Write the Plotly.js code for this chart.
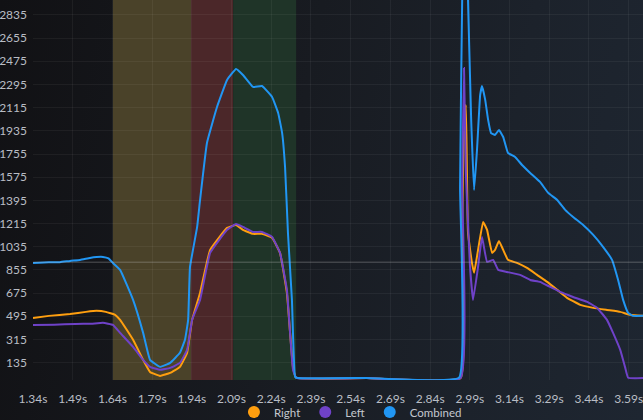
<!DOCTYPE html>
<html>
<head>
<meta charset="utf-8">
<script src="https://cdn.plot.ly/plotly-3.0.1.min.js"></script>
<style>
html,body{margin:0;padding:0;width:643px;height:420px;overflow:hidden;
background:linear-gradient(100deg,#111114 0%,#181b21 45%,#1c222b 75%,#1e2631 100%);}
#chart{width:643px;height:420px;}
</style>
</head>
<body>
<div id="chart"></div>
<script>
// Right foot
const timeR = [1.340,1.400,1.480,1.540,1.580,1.615,1.650,1.669,1.718,1.756,1.782,1.820,1.858,1.895,1.922,1.941,1.971,2.009,2.073,2.107,2.133,2.171,2.205,2.243,2.273,2.299,2.311,2.322,2.334,2.600,2.955,2.961,2.968,2.975,2.983,2.998,3.006,3.021,3.040,3.055,3.074,3.085,3.100,3.116,3.134,3.168,3.206,3.244,3.282,3.320,3.357,3.407,3.456,3.508,3.558,3.596,3.644];
const right = [482,498,513,529,537,529,506,467,312,156,63,32,55,102,211,467,676,1010,1181,1204,1166,1135,1135,1104,987,676,366,102,17,15,15,1200,2000,2136,1142,909,832,1010,1228,1166,987,1010,1080,1010,933,909,870,816,762,700,638,583,560,544,529,506,498];
// Left foot
const timeL = [1.340,1.420,1.500,1.560,1.604,1.642,1.669,1.718,1.756,1.782,1.820,1.858,1.895,1.922,1.941,1.971,2.009,2.073,2.107,2.133,2.171,2.205,2.243,2.273,2.299,2.311,2.322,2.334,2.600,2.955,2.961,2.968,2.975,2.990,3.002,3.021,3.036,3.055,3.078,3.097,3.131,3.180,3.218,3.255,3.293,3.331,3.380,3.433,3.471,3.508,3.531,3.558,3.576,3.588,3.644];
const left = [428,430,435,437,444,428,366,257,156,102,79,94,133,234,467,622,987,1166,1212,1189,1150,1150,1111,987,700,366,79,17,15,15,1500,2423,1600,900,622,878,1111,917,933,855,839,816,777,762,723,684,645,607,560,467,366,234,102,17,15];
// Combined
const timeC = [1.340,1.400,1.442,1.480,1.518,1.555,1.580,1.604,1.625,1.642,1.669,1.718,1.756,1.782,1.820,1.858,1.895,1.914,1.926,1.933,1.960,1.971,1.997,2.035,2.073,2.107,2.133,2.171,2.205,2.243,2.266,2.281,2.292,2.303,2.318,2.330,2.340,2.600,2.949,2.953,2.961,2.972,2.983,2.995,3.006,3.017,3.029,3.036,3.048,3.059,3.070,3.085,3.100,3.116,3.134,3.161,3.187,3.218,3.255,3.286,3.320,3.350,3.380,3.418,3.456,3.493,3.527,3.550,3.569,3.588,3.607,3.644];
const combined = [908,915,915,925,932,948,955,956,945,909,855,622,366,156,102,133,211,312,467,878,1189,1398,1841,2120,2330,2415,2369,2276,2283,2198,2074,1918,1655,1142,622,24,15,15,17,1500,2951,3600,2951,2020,1476,1787,2214,2283,2175,2020,1918,1903,1942,1887,1763,1732,1670,1608,1538,1453,1398,1321,1266,1204,1127,1034,933,777,622,521,498,498];

const seriesNames = ['Right','Left','Combined'];
const seriesColors = ['#ff9f0f','#6f42c8','#2196f3'];

// phase bands [start, end]
const phaseStart = [1.642, 1.937, 2.096];
const phaseEnd   = [1.937, 2.096, 2.334];
const phaseColors = ['#4a4229','#4b2729','#1f3428'];
const hoverValue = 915;

const xs = [timeR, timeL, timeC];
const ys = [right, left, combined];
const traces = [];
for (let i = 0; i < 3; i++) {
  traces.push({x: xs[i], y: ys[i], type: 'scatter', mode: 'lines', name: seriesNames[i],
    showlegend: false, line: {color: seriesColors[i], width: 2, shape: 'spline', smoothing: 0.3},
    hoverinfo: 'skip'});
}
for (let i = 0; i < 3; i++) {
  traces.push({x: [null], y: [null], type: 'scatter', mode: 'markers', name: seriesNames[i],
    marker: {color: seriesColors[i], size: 12, symbol: 'circle'}, showlegend: true});
}

const shapes = [];
for (let i = 0; i < phaseStart.length; i++) {
  shapes.push({type: 'rect', xref: 'x', yref: 'paper', x0: phaseStart[i], x1: phaseEnd[i], y0: 0, y1: 1,
    fillcolor: phaseColors[i], line: {width: 0}, layer: 'below'});
}
shapes.push({type: 'line', xref: 'paper', yref: 'y', x0: 0, x1: 1, y0: hoverValue, y1: hoverValue,
  line: {color: 'rgba(200,200,200,0.35)', width: 1}, layer: 'above'});

const layout = {
  width: 643, height: 420,
  margin: {l: 33, r: 0, t: 0, b: 40, pad: 0, autoexpand: false},
  paper_bgcolor: 'rgba(0,0,0,0)', plot_bgcolor: 'rgba(0,0,0,0)',
  font: {family: 'Lato, sans-serif', size: 12, color: '#b9bdc4'},
  showlegend: true,
  legend: {orientation: 'h', xref: 'container', x: 0.545, xanchor: 'center', yref: 'container', y: 0.019, yanchor: 'middle',
    font: {size: 11.5, color: '#c4c8cf'}, itemwidth: 30, bgcolor: 'rgba(0,0,0,0)', tracegroupgap: 0},
  xaxis: {range: [1.34, 3.644], tick0: 1.34, dtick: 0.15, tickformat: '.2f', ticksuffix: 's',
    showgrid: true, gridcolor: 'rgba(255,255,255,0.05)', zeroline: false, showline: false,
    ticks: '', ticklabelstandoff: 10, ticklabeloverflow: 'allow', automargin: false,
    tickfont: {size: 12, color: '#b9bdc4'}},
  yaxis: {range: [0, 2951], tick0: 135, dtick: 180, showgrid: true, gridcolor: 'rgba(255,255,255,0.05)',
    zeroline: false, showline: false, ticks: '', ticklabelstandoff: 5, automargin: false,
    tickfont: {size: 12, color: '#b9bdc4'}},
  shapes: shapes
};
Plotly.newPlot('chart', traces, layout, {displayModeBar: false, staticPlot: true});
</script>
</body>
</html>
